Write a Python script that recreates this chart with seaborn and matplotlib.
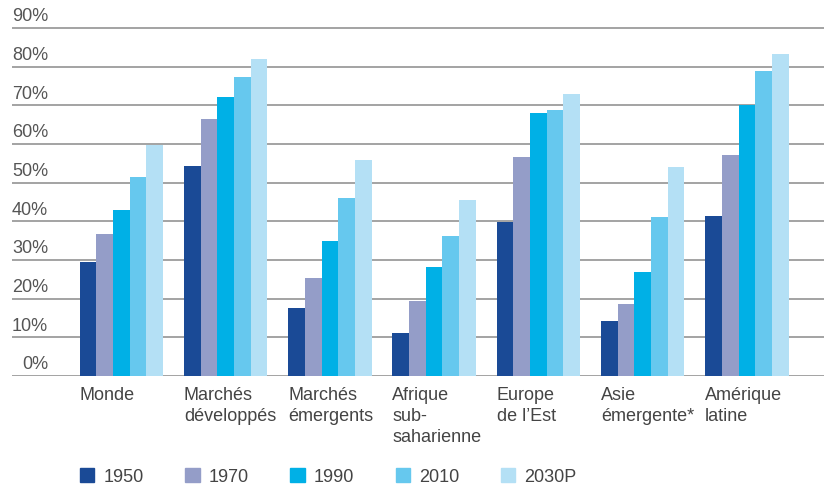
import numpy as np
import pandas as pd
import matplotlib
matplotlib.use('Agg')
import matplotlib.pyplot as plt
import matplotlib.transforms as mtransforms
import seaborn as sns

# data (share of urban population, %)
regions = ['Monde', 'Marchés\ndéveloppés', 'Marchés\némergents', 'Afrique\nsub-\nsaharienne',
           'Europe\nde l\u2019Est', 'Asie\némergente*', 'Amérique\nlatine']
years = ['1950', '1970', '1990', '2010', '2030P']
v1950 = [29.5, 54.4, 17.6, 11.1, 39.7, 14.1, 41.3]
v1970 = [36.6, 66.5, 25.3, 19.4, 56.6, 18.7, 57.1]
v1990 = [42.9, 72.2, 34.9, 28.2, 67.9, 27.0, 70.2]
v2010 = [51.5, 77.4, 46.0, 36.3, 68.8, 41.2, 78.8]
v2030 = [59.8, 82.0, 55.9, 45.6, 72.8, 54.1, 83.3]
yticks = [0, 10, 20, 30, 40, 50, 60, 70, 80, 90]

colors = ['#1a4a96', '#949dc8', '#00b0e6', '#66c8ee', '#b4e0f5']

rows = []
for yr, vals in zip(years, [v1950, v1970, v1990, v2010, v2030]):
    for reg, v in zip(regions, vals):
        rows.append({'region': reg, 'year': yr, 'value': v})
df = pd.DataFrame(rows)

sns.set_style('white')
plt.rcParams['font.family'] = ['Liberation Sans', 'DejaVu Sans']

fig = plt.figure(figsize=(8.24, 4.90), dpi=100)
ax = fig.add_axes([12 / 824, 114 / 490, 1 - 12 / 824, (490 - 26) / 490 - 114 / 490])

sns.barplot(data=df, x='region', y='value', hue='year', order=regions, hue_order=years,
            palette=colors, saturation=1, width=0.8, linewidth=0, ax=ax)

ax.set_ylim(0, 90.5)
ax.set_xlim(-1.05, 6.74)
for s in ax.spines.values():
    s.set_visible(False)

# horizontal gridlines with labels sitting above them
for t in yticks:
    ax.axhline(t, color='#8a8a8a', linewidth=1.1, zorder=0)
trans = mtransforms.blended_transform_factory(ax.transAxes, ax.transData)
for t in yticks:
    ax.text(36 / 812, t + 1.7, f'{t}%', transform=trans, ha='right', va='baseline',
            fontsize=13, color='#555555')
ax.set_yticks([])
ax.set_ylabel('')
ax.set_xlabel('')

# category labels left-aligned under each group
ax.set_xticks(np.arange(len(regions)) - 0.4)
ax.set_xticklabels(regions, ha='left', va='top', fontsize=13, color='#444444', linespacing=1.3)
ax.tick_params(axis='x', length=0, pad=8)

ax.legend_.remove()
handles = [plt.Rectangle((0, 0), 1, 1, color=c) for c in colors]
fig.legend(handles, years, loc='center left', bbox_to_anchor=(80 / 824, 13 / 490), ncol=5,
           frameon=False, fontsize=13, handlelength=0.8, handleheight=0.8,
           handletextpad=0.5, columnspacing=2.3, borderpad=0, borderaxespad=0,
           labelcolor='#444444')

fig.savefig('out.png', dpi=100)
